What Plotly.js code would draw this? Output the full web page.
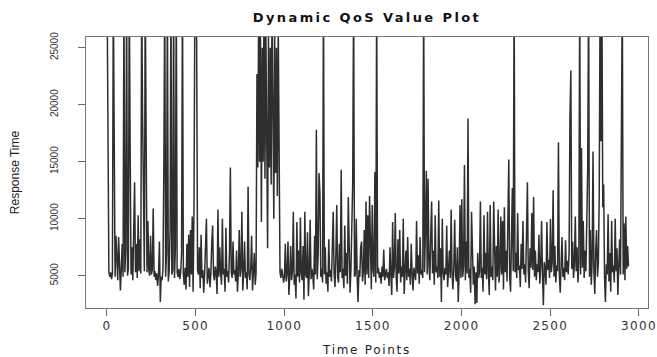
<!DOCTYPE html>
<html><head><meta charset="utf-8">
<script src="https://cdn.plot.ly/plotly-3.0.1.min.js"></script>
<style>
html,body{margin:0;padding:0;background:#fff;}
#chart{width:657px;height:357px;}
.gtitle{letter-spacing:2.4px;}
.xtick text{letter-spacing:1.3px;}
.g-xtitle text{letter-spacing:1.7px;}
</style></head><body><div id="chart"></div>
<script>
const timeStart = 1;
const timeStep = 5;
const qosA = [
30000,21100,5300,4900,5300,4700,5200,30000,13200,4900,8500,5100,4600,8400,5300,3700,5600,7800,4900,30000,
5300,7200,30000,5000,5600,30000,16200,5100,7500,4600,9000,13200,5300,7800,4800,10300,5400,8200,5200,30000,
19100,9500,5400,30000,10200,5300,9800,5500,5000,8500,5100,5500,10900,4900,5400,4600,5200,4100,5100,8000,
2700,4900,4600,5600,14700,30000,4900,7000,30000,4500,5400,9000,30000,5100,5500,30000,4800,7500,30000,5300,
4900,5600,4700,5300,7000,30000,5100,4200,5700,3800,7800,4900,8600,4000,9000,5100,10200,3600,11000,30000,
30000,25500,5500,5100,7500,3900,8600,4800,5500,3500,5200,7000,10000,4300,5300,5700,4000,5200,7800,9400,
5100,4600,5800,5300,3400,10800,4900,7500,5300,4200,10000,5100,5600,3600,9200,4900,5400,4400,7000,14500,
5300,4800,8000,5100,5500,4500,7200,3600,5200,9000,4900,5600,10600,3700,5300,8000,4800,5300,3800,12800,
5100,4600,5700,8500,3700,5300,7000,4200,5200,22700,14500,30000,15000,26000,9700,25000,15000,30000,13500,27000,
15000,7400,26000,14500,25000,13000,30000,14500,10000,26000,14000,25000,12000,27000,14500,5300,4800,5600,5100,4400
];
const qosB = [
4900,7800,4500,5200,8000,3300,4900,7600,4600,5300,10600,4200,5100,3000,9700,4900,7200,4400,10100,5200,
4600,7600,2900,10600,5100,4800,8800,3200,5200,9900,4700,5600,5000,3800,8500,5100,17800,4700,6800,14000,
12300,4900,5600,4400,30000,5100,7500,4300,5300,3600,8200,4900,5500,4500,7500,10600,5200,4000,6800,11200,
4900,4400,7800,5300,14300,4800,5600,3900,9400,5000,7000,4300,11900,5200,3500,5600,8500,13200,30000,4900,
5100,10000,4800,2700,5500,4900,7500,8000,4500,5300,9000,4200,11500,5100,10300,4800,12000,5200,3800,11200,
5500,4900,14100,4400,30000,5200,5700,4800,5300,4300,5800,4900,7300,4600,5200,5600,4800,5300,4100,7500,
5100,3300,9700,4800,5700,10500,4900,3600,8200,5200,9000,4400,5800,4900,10000,3400,5300,7200,4600,8400,
4900,5600,4200,7800,5200,3700,5700,5000,4600,9800,5200,6800,4300,8400,5100,5500,4800,30000,5300,9000,
14200,5100,13500,5800,4600,8500,11500,5200,7200,4200,10300,5300,5800,4800,11600,4900,7400,2700,10000,5300,
4600,5700,5100,9400,4000,5400,7200,4800,10800,5200,3800,5800,9900,5000,4500,7500,2700,5300,11200,4800
];
const qosC = [
11700,4900,5800,14700,4600,8000,5200,18800,4800,5600,3500,10600,5100,4200,5800,2500,5300,2600,7000,4800,
5400,11500,4800,5700,3600,10300,5100,7000,4700,10600,5300,3300,11200,4900,5800,4600,11500,5200,3700,7600,
4900,10800,4400,5600,10200,5100,9800,3800,11000,5300,7200,4500,10600,15200,4900,3600,8000,12700,5400,30000,
5300,7000,4800,10500,5500,5900,4000,7800,5600,9800,5100,6000,4400,8200,13200,5400,3900,7400,5700,10500,
5500,11900,4900,7200,4600,6000,5300,8600,4300,5800,9800,5100,2400,6200,5600,4200,9700,5500,6400,4800,
10000,5300,6200,12500,4900,7600,4400,5900,5400,16700,5100,3500,6000,8400,4900,5700,4600,8100,5300,6300,
5100,7000,19100,23000,5600,8000,4800,6000,10200,5400,7500,4400,6200,30000,5100,16200,5700,9800,4800,7200,
5400,8600,14400,30000,4900,9000,4200,6200,15900,5300,3400,7200,9000,4900,6000,12000,30000,16800,30000,11000,
13000,4800,2700,6000,5100,10400,4500,7000,3600,9800,5300,5900,4400,10000,5400,7400,3300,5800,8200,5100,
14100,30000,5100,9600,4600,10200,5600,7600,5800
];
const xTickVals = [0, 500, 1000, 1500, 2000, 2500, 3000];
const yTickVals = [5000, 10000, 15000, 20000, 25000];
const yTickText = ['5000', '10000', '15000', '20000', '25000'];
const responseTime = qosA.concat(qosB, qosC);

Plotly.newPlot('chart', [{
  type: 'scatter', mode: 'lines',
  y: responseTime, x0: timeStart, dx: timeStep,
  line: {color: 'rgba(0,0,0,0.82)', width: 1.5},
  hoverinfo: 'skip'
}], {
  width: 657, height: 357,
  margin: {l: 86, r: 9, t: 37, b: 49},
  paper_bgcolor: '#ffffff', plot_bgcolor: '#ffffff',
  showlegend: false,
  title: {text: 'Dynamic QoS Value Plot', xref: 'paper', x: 0.5, xanchor: 'center',
          yref: 'container', y: 0.952, yanchor: 'middle',
          font: {family: 'DejaVu Sans', size: 13, color: '#111', weight: 'bold'}},
  xaxis: {
    range: [-118, 3051], tickmode: 'array', tickvals: xTickVals,
    ticks: 'outside', ticklen: 7, tickcolor: '#666', tickwidth: 1,
    showline: true, mirror: true, linecolor: '#777', linewidth: 1,
    showgrid: false, zeroline: false,
    tickfont: {family: 'DejaVu Sans', size: 12, color: '#333'},
    title: {text: 'Time Points', font: {family: 'DejaVu Sans', size: 12, color: '#222'}}
  },
  yaxis: {
    range: [2167, 25939], tickmode: 'array', tickvals: yTickVals, ticktext: yTickText,
    ticks: 'outside', ticklen: 7, tickcolor: '#666', tickwidth: 1, tickangle: -90,
    ticklabelstandoff: 16,
    showline: true, mirror: true, linecolor: '#777', linewidth: 1,
    showgrid: false, zeroline: false,
    tickfont: {family: 'Liberation Sans, Arial', size: 10, color: '#333'},
    title: {text: 'Response Time', standoff: 26, font: {family: 'Liberation Sans, Arial', size: 12, color: '#222'}}
  }
}, {staticPlot: true, displayModeBar: false});
</script></body></html>
